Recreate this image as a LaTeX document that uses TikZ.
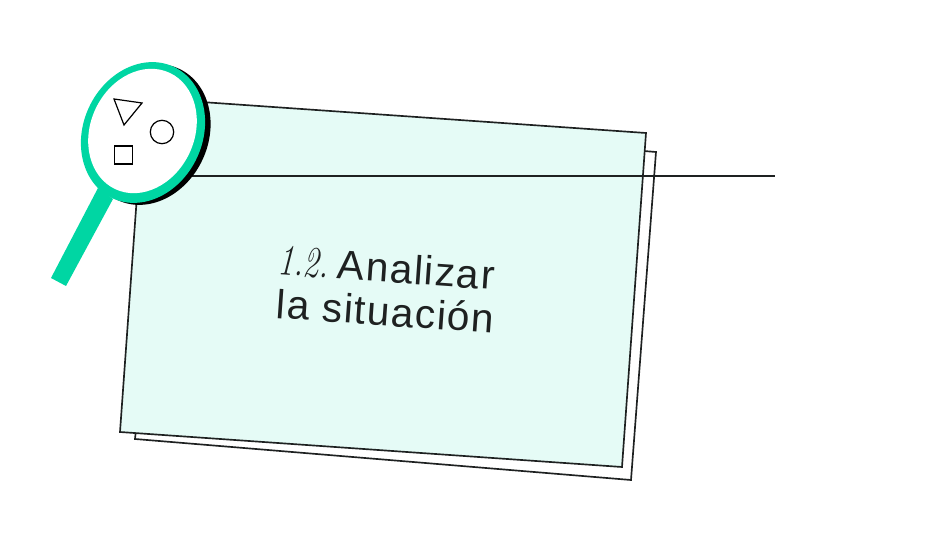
\documentclass[tikz,border=0pt]{standalone}
\usepackage{fontspec}
\setsansfont{Liberation Sans}[LetterSpace=3.6]
\definecolor{lensgreen}{RGB}{0,214,163}
\definecolor{cardmint}{RGB}{229,251,246}
\definecolor{darktext}{RGB}{30,33,33}
\tikzset{
  cardline/.style={line width=1.25pt,color=darktext,line join=miter},
  shapeline/.style={line width=0.9pt,color=black},
}
\begin{document}
\begin{tikzpicture}[x=0.75pt,y=-0.75pt]
  \useasboundingbox (0,0) rectangle (926,552);
  % Cards
  \draw[cardline,fill=white] (170,112) -- (656,152) -- (631,480) -- (135,439) -- cycle;
  \draw[cardline,fill=cardmint] (144,98) -- (646,133) -- (622,467) -- (120,432) -- cycle;
  % Horizontal rule
  \draw[cardline] (190,176) -- (775,176);
  % Title
  \node[rotate=-4,font=\fontsize{30.5}{32.5}\selectfont\sffamily,color=darktext,align=center] (title) at (387,289.5)
    {{\fontsize{33}{33}\rmfamily\scalebox{0.72}[1]{\itshape 1.2.}}\hspace{-3pt} Analizar\hspace*{3pt}\\la situación};
  % Magnifier
  \fill[black,rotate around={65:(148.5,134.5)}] (148.5,134.5) ellipse (72.5 and 59.6);
  \fill[lensgreen] (98,188) -- (113,199) -- (66,286) -- (51,278) -- cycle;
  \fill[lensgreen,rotate around={65:(143,132.5)}] (143,132.5) ellipse (72.5 and 59.6);
  \fill[white,rotate around={65:(142.5,131)}] (142.5,131) ellipse (64.2 and 51.9);
  % Symbols in the lens
  \draw[shapeline] (114,99) -- (142,103) -- (124,125) -- cycle;
  \draw[shapeline] (162,132) circle (11.7);
  \draw[shapeline] (114.5,146) rectangle (132.8,164);
\end{tikzpicture}
\end{document}
